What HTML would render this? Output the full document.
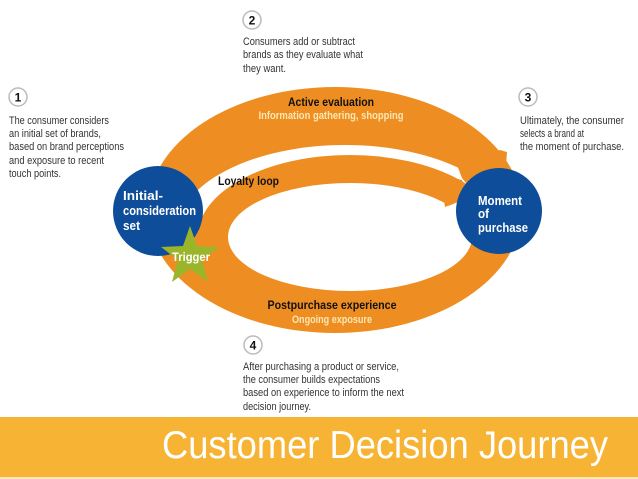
<!DOCTYPE html>
<html><head><meta charset="utf-8"><style>
html,body{margin:0;padding:0;background:#fff;}
svg{display:block;}
text{font-family:"Liberation Sans",sans-serif;}
.n{font-size:11px;fill:#333;}
.b{font-weight:bold;}
</style></head><body>
<svg width="638" height="479" viewBox="0 0 638 479" xmlns="http://www.w3.org/2000/svg">
<defs>
<clipPath id="top"><rect x="0" y="0" width="472" height="232"/></clipPath>
</defs>
<!-- outer orange -->
<ellipse cx="335" cy="210" rx="187" ry="123" fill="#ee8e22"/>
<!-- gap between active evaluation and loyalty loop -->
<ellipse cx="345" cy="232" rx="168" ry="87" fill="#fff" clip-path="url(#top)"/>
<!-- loyalty loop band -->
<ellipse cx="350" cy="236" rx="152" ry="81" fill="#ee8e22"/>
<!-- inner hole -->
<ellipse cx="350" cy="237" rx="122" ry="54" fill="#fff"/>
<!-- loyalty arrow notch / top band arrow -->
<polygon points="440,210 466,198 470,215 470,240 440,240" fill="#fff"/>
<polygon points="455,160 500,150 507,152 505,180 470,188 462,178" fill="#ee8e22"/>
<polygon points="440,175 462,180 468,198 445,207" fill="#ee8e22"/>
<!-- circles -->
<circle cx="158" cy="211" r="45" fill="#0e4d9a"/>
<circle cx="499" cy="211" r="43" fill="#0e4d9a"/>
<!-- star -->
<polygon fill="#9bb52a" points="190,226 197,246 219,247 202,260 208,282 190,269 172,282 178,260 161,247 183,246"/>
<!-- numbered circles -->
<g fill="#fff" stroke="#bbb" stroke-width="1.5">
<circle cx="18" cy="97" r="9"/><circle cx="252" cy="20" r="9"/><circle cx="528" cy="97" r="9"/><circle cx="253" cy="345" r="9"/>
</g>
<g class="b" font-size="12" fill="#111" text-anchor="middle">
<text x="18" y="101.5">1</text><text x="252" y="24.5">2</text><text x="528" y="101.5">3</text><text x="253" y="349.5">4</text>
</g>
<!-- notes -->
<g class="n">
<text x="9" y="124" textLength="100" lengthAdjust="spacingAndGlyphs">The consumer considers</text>
<text x="9" y="137" textLength="92" lengthAdjust="spacingAndGlyphs">an initial set of brands,</text>
<text x="9" y="150" textLength="115" lengthAdjust="spacingAndGlyphs">based on brand perceptions</text>
<text x="9" y="164" textLength="95" lengthAdjust="spacingAndGlyphs">and exposure to recent</text>
<text x="9" y="177" textLength="52" lengthAdjust="spacingAndGlyphs">touch points.</text>
<text x="243" y="45" textLength="112" lengthAdjust="spacingAndGlyphs">Consumers add or subtract</text>
<text x="243" y="58" textLength="120" lengthAdjust="spacingAndGlyphs">brands as they evaluate what</text>
<text x="243" y="72" textLength="43" lengthAdjust="spacingAndGlyphs">they want.</text>
<text x="520" y="124" textLength="104" lengthAdjust="spacingAndGlyphs">Ultimately, the consumer</text>
<text x="520" y="137" textLength="64" lengthAdjust="spacingAndGlyphs">selects a brand at</text>
<text x="520" y="150" textLength="104" lengthAdjust="spacingAndGlyphs">the moment of purchase.</text>
<text x="243" y="370" textLength="156" lengthAdjust="spacingAndGlyphs">After purchasing a product or service,</text>
<text x="243" y="383" textLength="137" lengthAdjust="spacingAndGlyphs">the consumer builds expectations</text>
<text x="243" y="396" textLength="161" lengthAdjust="spacingAndGlyphs">based on experience to inform the next</text>
<text x="243" y="410" textLength="68" lengthAdjust="spacingAndGlyphs">decision journey.</text>
</g>
<!-- band labels -->
<g class="b" font-size="12" text-anchor="middle">
<text x="331" y="106" fill="#111" textLength="86" lengthAdjust="spacingAndGlyphs">Active evaluation</text>
<text x="331" y="119" fill="#fde7b4" font-size="11" textLength="145" lengthAdjust="spacingAndGlyphs">Information gathering, shopping</text>
<text x="332" y="309" fill="#111" textLength="129" lengthAdjust="spacingAndGlyphs">Postpurchase experience</text>
<text x="332" y="323" fill="#fde7b4" font-size="11" textLength="80" lengthAdjust="spacingAndGlyphs">Ongoing exposure</text>
</g>
<text x="218" y="185" class="b" font-size="12" fill="#111" textLength="61" lengthAdjust="spacingAndGlyphs">Loyalty loop</text>
<g class="b" font-size="13" fill="#fff">
<text x="123" y="200" textLength="40" lengthAdjust="spacingAndGlyphs">Initial-</text>
<text x="123" y="215" textLength="73" lengthAdjust="spacingAndGlyphs">consideration</text>
<text x="123" y="230" textLength="17" lengthAdjust="spacingAndGlyphs">set</text>
<text x="478" y="205" textLength="44" lengthAdjust="spacingAndGlyphs">Moment</text>
<text x="478" y="218" textLength="11" lengthAdjust="spacingAndGlyphs">of</text>
<text x="478" y="232" textLength="50" lengthAdjust="spacingAndGlyphs">purchase</text>
<text x="172" y="261" font-size="12" textLength="38" lengthAdjust="spacingAndGlyphs">Trigger</text>
</g>
<!-- title band -->
<rect x="0" y="417" width="638" height="60" fill="#f7b434"/>
<rect x="0" y="477" width="638" height="2" fill="#fbe6b8"/>
<text x="162" y="458" font-size="39" fill="#fff" textLength="446" lengthAdjust="spacingAndGlyphs">Customer Decision Journey</text>
</svg>
</body></html>
